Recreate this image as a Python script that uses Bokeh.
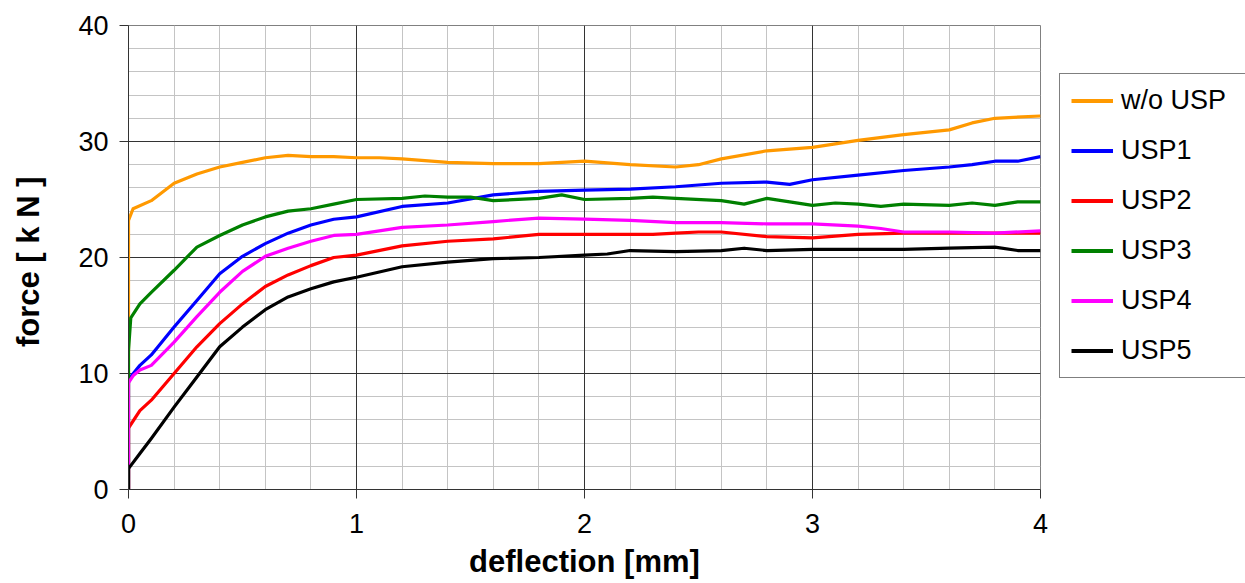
from bokeh.plotting import figure
from bokeh.models import (Range1d, FixedTicker, Grid, Legend, LegendItem)
from bokeh.layouts import row
from bokeh.embed import file_html
from bokeh.resources import INLINE

# ---- data (deflection [mm], force [kN]) ----
series_names = ["w/o USP", "USP1", "USP2", "USP3", "USP4", "USP5"]
series_colors = ["#FF9900", "#0000FF", "#FF0000", "#008000", "#FF00FF", "#000000"]

wo_x = [0, 0, 0.02, 0.1, 0.2, 0.3, 0.4, 0.5, 0.6, 0.7, 0.8, 0.9, 1.0, 1.1, 1.2, 1.4,
        1.6, 1.8, 2.0, 2.2, 2.4, 2.5, 2.6, 2.8, 3.0, 3.2, 3.4, 3.6, 3.7, 3.8, 4.0]
wo_y = [0, 23.2, 24.2, 24.9, 26.4, 27.2, 27.8, 28.2, 28.6, 28.8, 28.7, 28.7, 28.6, 28.6, 28.5, 28.2,
        28.1, 28.1, 28.3, 28.0, 27.8, 28.0, 28.5, 29.2, 29.5, 30.1, 30.6, 31.0, 31.6, 32.0, 32.2]

usp1_x = [0, 0, 0.05, 0.1, 0.2, 0.3, 0.4, 0.5, 0.6, 0.7, 0.8, 0.9, 1.0, 1.2, 1.4, 1.6,
          1.8, 2.0, 2.2, 2.4, 2.6, 2.8, 2.9, 3.0, 3.2, 3.4, 3.6, 3.7, 3.8, 3.9, 4.0]
usp1_y = [0, 9.5, 10.7, 11.6, 14.0, 16.3, 18.6, 20.1, 21.2, 22.1, 22.8, 23.3, 23.5, 24.4, 24.7, 25.4,
          25.7, 25.8, 25.9, 26.1, 26.4, 26.5, 26.3, 26.7, 27.1, 27.5, 27.8, 28.0, 28.3, 28.3, 28.7]

usp2_x = [0, 0, 0.05, 0.1, 0.2, 0.3, 0.4, 0.5, 0.6, 0.7, 0.8, 0.9, 1.0, 1.2, 1.4, 1.6,
          1.8, 2.0, 2.2, 2.3, 2.4, 2.5, 2.6, 2.8, 3.0, 3.2, 3.4, 3.6, 3.8, 4.0]
usp2_y = [0, 5.3, 6.8, 7.7, 10.0, 12.3, 14.3, 16.0, 17.5, 18.5, 19.3, 20.0, 20.2, 21.0, 21.4, 21.6,
          22.0, 22.0, 22.0, 22.0, 22.1, 22.2, 22.2, 21.8, 21.7, 22.0, 22.1, 22.1, 22.1, 22.1]

usp3_x = [0, 0, 0.01, 0.05, 0.1, 0.2, 0.3, 0.4, 0.5, 0.6, 0.7, 0.8, 0.9, 1.0, 1.2, 1.3,
          1.4, 1.5, 1.6, 1.8, 1.9, 2.0, 2.2, 2.3, 2.4, 2.6, 2.7, 2.8, 2.9, 3.0, 3.1,
          3.2, 3.3, 3.4, 3.6, 3.7, 3.8, 3.9, 4.0]
usp3_y = [0, 12.0, 14.8, 16.0, 17.0, 18.9, 20.9, 21.9, 22.8, 23.5, 24.0, 24.2, 24.6, 25.0, 25.1, 25.3,
          25.2, 25.2, 24.9, 25.1, 25.4, 25.0, 25.1, 25.2, 25.1, 24.9, 24.6, 25.1, 24.8, 24.5, 24.7,
          24.6, 24.4, 24.6, 24.5, 24.7, 24.5, 24.8, 24.8]

usp4_x = [0, 0, 0.02, 0.05, 0.1, 0.2, 0.3, 0.4, 0.5, 0.6, 0.7, 0.8, 0.9, 1.0, 1.2, 1.4,
          1.6, 1.8, 2.0, 2.2, 2.4, 2.6, 2.8, 3.0, 3.2, 3.3, 3.4, 3.6, 3.8, 4.0]
usp4_y = [0, 9.2, 9.8, 10.3, 10.7, 12.7, 14.9, 17.0, 18.8, 20.1, 20.8, 21.4, 21.9, 22.0, 22.6, 22.8,
          23.1, 23.4, 23.3, 23.2, 23.0, 23.0, 22.9, 22.9, 22.7, 22.5, 22.2, 22.2, 22.1, 22.3]

usp5_x = [0, 0, 0.05, 0.1, 0.2, 0.3, 0.4, 0.5, 0.6, 0.7, 0.8, 0.9, 1.0, 1.2, 1.4, 1.6,
          1.8, 2.0, 2.1, 2.2, 2.4, 2.6, 2.7, 2.8, 3.0, 3.2, 3.4, 3.6, 3.8, 3.9, 4.0]
usp5_y = [0, 1.8, 3.1, 4.4, 7.1, 9.7, 12.3, 14.0, 15.5, 16.6, 17.3, 17.9, 18.3, 19.2, 19.6, 19.9,
          20.0, 20.2, 20.3, 20.6, 20.5, 20.6, 20.8, 20.6, 20.7, 20.7, 20.7, 20.8, 20.9, 20.6, 20.6]

x_ticks = [0, 1, 2, 3, 4]
y_ticks = [0, 10, 20, 30, 40]
x_minor = [0.2, 0.4, 0.6, 0.8, 1.2, 1.4, 1.6, 1.8, 2.2, 2.4, 2.6, 2.8, 3.2, 3.4, 3.6, 3.8]
y_minor = [2, 4, 6, 8, 12, 14, 16, 18, 22, 24, 26, 28, 32, 34, 36, 38]

FONT = "Liberation Sans"
H = 583
TOP, BOTTOM = 25, 94

p = figure(width=1048, height=H, output_backend="svg", toolbar_location=None,
           x_range=Range1d(0, 4), y_range=Range1d(0, 40),
           min_border_left=128, min_border_right=8, min_border_top=TOP, min_border_bottom=BOTTOM)
p.background_fill_color = "white"
p.border_fill_color = "white"
p.outline_line_color = "#808080"
p.outline_line_width = 1

# minor grid (light grey) via the default grids
p.xgrid.ticker = FixedTicker(ticks=x_minor)
p.ygrid.ticker = FixedTicker(ticks=y_minor)
for g in (p.xgrid, p.ygrid):
    g.grid_line_color = "#c4c4c4"
    g.grid_line_width = 1

# major grid (dark)
gx = Grid(dimension=0, ticker=FixedTicker(ticks=[1, 2, 3]), grid_line_color="#333333", grid_line_width=1)
gy = Grid(dimension=1, ticker=FixedTicker(ticks=[10, 20, 30]), grid_line_color="#333333", grid_line_width=1)
p.add_layout(gx)
p.add_layout(gy)

p.xaxis.ticker = FixedTicker(ticks=x_ticks)
p.yaxis.ticker = FixedTicker(ticks=y_ticks)
for ax in (p.xaxis, p.yaxis):
    ax.axis_line_color = "#333333"
    ax.major_tick_line_color = "#333333"
    ax.major_tick_out = 9
    ax.major_tick_in = 0
    ax.minor_tick_line_color = None
    ax.major_label_text_font = FONT
    ax.major_label_text_font_size = "27px"
    ax.major_label_text_color = "black"
    ax.axis_label_text_font = FONT
    ax.axis_label_text_font_size = "31px"
    ax.axis_label_text_font_style = "bold"
    ax.axis_label_text_color = "black"

p.xaxis.axis_label = "deflection [mm]"
p.yaxis.axis_label = "force  [ k N ]"
p.xaxis.major_label_standoff = 15
p.xaxis.axis_label_standoff = 8
p.yaxis.major_label_standoff = 11
p.yaxis.axis_label_standoff = 29

xs = [wo_x, usp1_x, usp2_x, usp3_x, usp4_x, usp5_x]
ys = [wo_y, usp1_y, usp2_y, usp3_y, usp4_y, usp5_y]
for sx, sy, col in zip(xs, ys, series_colors):
    p.line(sx, sy, line_color=col, line_width=3.2, line_join="round")

# ---- legend panel to the right of the plot (same frame top/bottom as main plot) ----
lp = figure(width=197, height=H, output_backend="svg", toolbar_location=None,
            x_range=Range1d(10, 11), y_range=Range1d(0, 40),
            x_axis_location=None, y_axis_location=None,
            min_border_left=0, min_border_right=0, min_border_top=TOP, min_border_bottom=BOTTOM)
lp.grid.visible = False
lp.outline_line_color = None
lp.background_fill_color = "white"
lp.border_fill_color = "white"

# legend proxies: same series, drawn outside this panel's visible x-range
proxies = [lp.line(sx, sy, line_color=col, line_width=4) for sx, sy, col in zip(xs, ys, series_colors)]
items = [LegendItem(label=n, renderers=[r]) for n, r in zip(series_names, proxies)]
legend = Legend(items=items, location=(11, 111), margin=0, padding=11,
                spacing=19, glyph_width=42, glyph_height=27, label_height=27,
                label_width=118, label_standoff=8,
                label_text_font=FONT, label_text_font_size="27px",
                label_text_color="black",
                border_line_color="black", border_line_width=1,
                background_fill_color="white", background_fill_alpha=1)
lp.add_layout(legend)

layout = row(p, lp)
open("out.html", "w").write(file_html(layout, INLINE))
